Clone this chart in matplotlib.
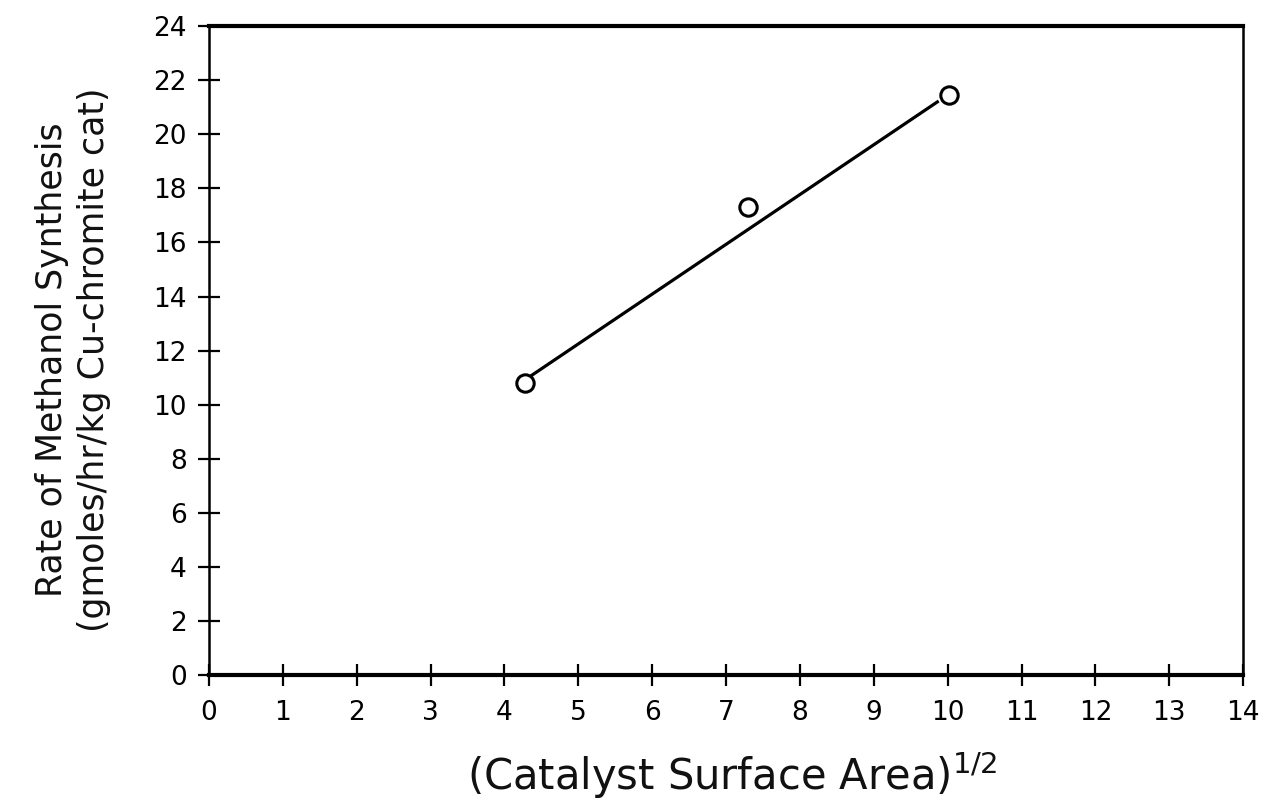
import matplotlib
matplotlib.use("Agg")
import matplotlib.pyplot as plt

# measured points
surface_area_sqrt = [4.28, 7.3, 10.02]
methanol_rate = [10.8, 17.3, 21.45]

# drawn fit line (end points)
fit_x = [4.35, 9.86]
fit_y = [11.05, 21.2]

x_ticks = list(range(0, 15))
y_ticks = list(range(0, 25, 2))

plt.rcParams["font.family"] = ["DejaVu Sans"]

fig = plt.figure(figsize=(12.66, 8.09), dpi=100)
ax = fig.add_axes([0.165, 0.1656, 0.817, 0.802])

ax.plot(fit_x, fit_y, color="black", lw=2.3)
ax.plot(surface_area_sqrt, methanol_rate, "o", ms=12.5, mfc="white",
        mec="black", mew=2.2)

ax.set_xlim(0, 14)
ax.set_ylim(0, 24)
ax.set_xticks(x_ticks)
ax.set_yticks(y_ticks)
ax.tick_params(direction="inout", length=16, width=1.6, labelsize=19,
               colors="black")
ax.tick_params(axis="x", pad=10)
ax.tick_params(axis="y", pad=8)

for side in ["top", "bottom"]:
    ax.spines[side].set_linewidth(3)
for side in ["left", "right"]:
    ax.spines[side].set_linewidth(1.8)

fig.text(0.058, 0.555, "Rate of Methanol Synthesis\n(gmoles/hr/kg Cu-chromite cat)",
         rotation=90, ha="center", va="center", fontsize=25,
         linespacing=1.3, color="#111111")
fig.text(0.578, 0.042, r"(Catalyst Surface Area)$^{1/2}$", ha="center",
         va="center", fontsize=30, color="#111111")

fig.savefig("out.png", dpi=100)
